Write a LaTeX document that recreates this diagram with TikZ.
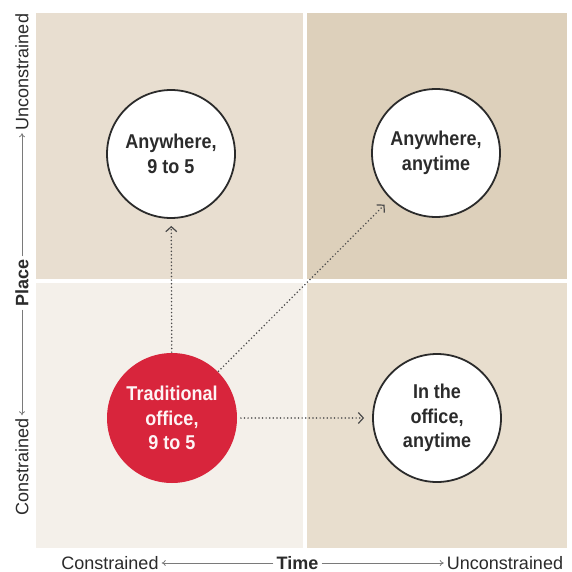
\documentclass[tikz,border=0pt]{standalone}
\usepackage{fontspec}
\setmainfont{Liberation Sans}
\newfontfamily\circfont[FakeStretch=0.9]{Liberation Sans}
\usetikzlibrary{arrows.meta}
\definecolor{qTL}{HTML}{E8DED0}
\definecolor{qTR}{HTML}{DDD0BB}
\definecolor{qBL}{HTML}{F4F0EA}
\definecolor{qBR}{HTML}{E8DECE}
\definecolor{redc}{HTML}{D8253C}
\definecolor{inkc}{HTML}{2B2B2B}
\definecolor{axisc}{HTML}{7A7A7A}
\definecolor{dotc}{HTML}{4A4A4A}
\tikzset{
  bubble/.style={circle, draw=inkc, line width=1.8pt, fill=white, minimum size=128pt, inner sep=0pt,
    align=center, text=inkc, font=\circfont\fontsize{20}{24.4}\selectfont\bfseries},
  redbubble/.style={bubble, draw=none, fill=redc, minimum size=130pt, text=white!95!redc},
  axislabel/.style={text=inkc, font=\fontsize{18}{20}\selectfont, inner sep=3pt},
  axistitle/.style={axislabel, font=\fontsize{18}{20}\selectfont\bfseries},
  axisline/.style={draw=axisc, line width=0.8pt, -{To[length=4pt,width=6pt]}},
  move/.style={draw=dotc, line width=1.7pt, line cap=round, dash pattern=on 0pt off 3.6pt,
    -{Straight Barb[length=5pt,width=11pt,line width=1.2pt,line cap=butt]}}
}
\begin{document}
\begin{tikzpicture}[x=1pt,y=-1pt]
\useasboundingbox (0,0) rectangle (571,572);
\fill[white] (0,0) rectangle (571,572);
% quadrants
\fill[qTL] (36,13) rectangle (303,279);
\fill[qTR] (307,13) rectangle (567,279);
\fill[qBL] (36,283) rectangle (303,548);
\fill[qBR] (307,283) rectangle (567,548);
% circles
\node[bubble] (a95) at (171,154) {Anywhere,\\9 to 5};
\node[bubble] (aany) at (436,153) {Anywhere,\\anytime};
\node[bubble] (oany) at (437,418) {In the\\office,\\anytime};
\node[redbubble] (trad) at (172,418) {Traditional\\office,\\9 to 5};
% moves
\draw[move, shorten >=7pt] (trad) -- (a95);
\draw[move, shorten >=8pt] (trad) -- (aany);
\draw[move, shorten >=8pt, shorten <=3pt] (trad) -- (oany);
% y axis
\node[axistitle, rotate=90] (place) at (22,283) {Place};
\node[axislabel, rotate=90] (yunc) at (22,72) {Unconstrained};
\node[axislabel, rotate=90] (ycon) at (22,467) {Constrained};
\draw[axisline] (place.east) -- (yunc.west);
\draw[axisline] (place.west) -- (ycon.east);
% x axis
\node[axistitle] (time) at (297.5,563) {Time};
\node[axislabel] (xcon) at (110,563) {Constrained};
\node[axislabel] (xunc) at (505,563) {Unconstrained};
\draw[axisline] (time.west) -- (xcon.east);
\draw[axisline] (time.east) -- (xunc.west);
\end{tikzpicture}
\end{document}
